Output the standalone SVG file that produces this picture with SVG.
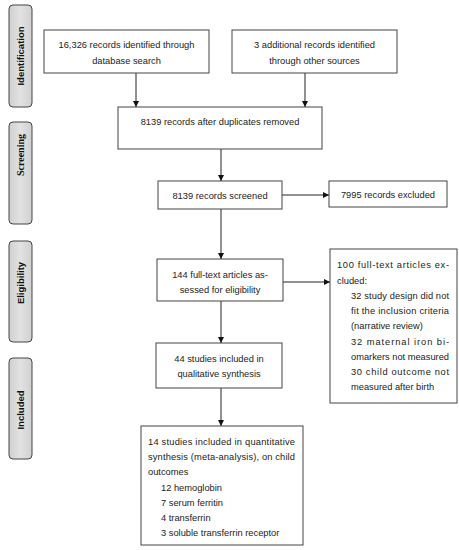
<svg xmlns="http://www.w3.org/2000/svg" width="459" height="550" viewBox="0 0 459 550">
<defs>
<linearGradient id="g" x1="0" y1="0" x2="1" y2="0">
<stop offset="0" stop-color="#d0d0d0"/>
<stop offset="0.5" stop-color="#e2e2e2"/>
<stop offset="1" stop-color="#d0d0d0"/>
</linearGradient>
<marker id="ah" viewBox="0 0 10 10" refX="10" refY="5" markerWidth="6" markerHeight="6" markerUnits="userSpaceOnUse" orient="auto">
<path d="M0,0 L10,5 L0,10 Z" fill="#111"/>
</marker>
</defs>
<style>
.box{fill:#fff;stroke:#444;stroke-width:1}
.side{fill:url(#g);stroke:#444;stroke-width:1}
.t{font-family:"Liberation Sans",Arial,sans-serif;font-size:9.3px;fill:#222}
.m{text-anchor:middle}
.sl{font-family:"Liberation Sans",Arial,sans-serif;font-size:9.5px;font-weight:bold;fill:#111;text-anchor:middle}
.ss{font-family:"Liberation Serif","Times New Roman",serif;font-size:10px;font-weight:bold;fill:#111;text-anchor:middle}
.c{stroke:#222;stroke-width:1;fill:none;marker-end:url(#ah)}
</style>
<rect width="459" height="550" fill="#fff"/>
<g id="side-identification">
<rect class="side" x="9" y="5" width="23" height="102" rx="4"/>
<text class="sl" transform="translate(24,56) rotate(-90)">Identification</text>
</g>
<g id="side-screening">
<rect class="side" x="9" y="122" width="23" height="102" rx="4"/>
<text class="ss" transform="translate(24,155) rotate(-90)">Screening</text>
</g>
<g id="side-eligibility">
<rect class="side" x="9" y="241" width="23" height="101" rx="4"/>
<text class="sl" transform="translate(24,283) rotate(-90)">Eligibility</text>
</g>
<g id="side-included">
<rect class="side" x="9" y="358" width="23" height="101" rx="4"/>
<text class="sl" transform="translate(24,410) rotate(-90)">Included</text>
</g>
<g id="connectors">
<line class="c" x1="136" y1="73" x2="136" y2="107"/>
<line class="c" x1="305" y1="73" x2="305" y2="107"/>
<line class="c" x1="221" y1="149" x2="221" y2="181"/>
<line class="c" x1="282" y1="195" x2="329" y2="195"/>
<line class="c" x1="221" y1="209" x2="221" y2="259"/>
<line class="c" x1="283" y1="282" x2="330" y2="282"/>
<line class="c" x1="221" y1="301" x2="221" y2="343"/>
<line class="c" x1="221" y1="388" x2="221" y2="426"/>
</g>
<g id="n1">
<rect class="box" x="44" y="30" width="165" height="43"/>
<text class="t m" x="126.5" y="48">16,326 records identified through</text>
<text class="t m" x="126.5" y="64">database search</text>
</g>
<g id="n2">
<rect class="box" x="232" y="30" width="165" height="43"/>
<text class="t m" x="314.5" y="48">3 additional records identified</text>
<text class="t m" x="314.5" y="64">through other sources</text>
</g>
<g id="n3">
<rect class="box" x="118" y="107" width="204" height="42"/>
<text class="t m" x="220" y="125">8139 records after duplicates removed</text>
</g>
<g id="n4">
<rect class="box" x="158" y="181" width="124" height="28"/>
<text class="t m" x="220" y="199">8139 records screened</text>
</g>
<g id="n5">
<rect class="box" x="329" y="181" width="118" height="26"/>
<text class="t m" x="388" y="198">7995 records excluded</text>
</g>
<g id="n6">
<rect class="box" x="157" y="259" width="126" height="42"/>
<text class="t m" x="220" y="278">144 full-text articles as-</text>
<text class="t m" x="220" y="293">sessed for eligibility</text>
</g>
<g id="n7">
<rect class="box" x="330" y="249" width="127" height="154"/>
<text class="t" x="337" y="268" textLength="112" lengthAdjust="spacing">100 full-text articles ex-</text>
<text class="t" x="337" y="284">cluded:</text>
<text class="t" x="351" y="299" textLength="98" lengthAdjust="spacing">32 study design did not</text>
<text class="t" x="351" y="314" textLength="98" lengthAdjust="spacing">fit the inclusion criteria</text>
<text class="t" x="351" y="329">(narrative review)</text>
<text class="t" x="351" y="345" textLength="98" lengthAdjust="spacing">32 maternal iron bi-</text>
<text class="t" x="351" y="360" textLength="98" lengthAdjust="spacing">omarkers not measured</text>
<text class="t" x="351" y="375" textLength="98" lengthAdjust="spacing">30 child outcome not</text>
<text class="t" x="351" y="390">measured after birth</text>
</g>
<g id="n8">
<rect class="box" x="156" y="343" width="126" height="45"/>
<text class="t m" x="219" y="362">44 studies included in</text>
<text class="t m" x="219" y="377">qualitative synthesis</text>
</g>
<g id="n9">
<rect class="box" x="141" y="426" width="162" height="119"/>
<text class="t" x="148" y="445" textLength="147" lengthAdjust="spacing">14 studies included in quantitative</text>
<text class="t" x="148" y="460" textLength="147" lengthAdjust="spacing">synthesis (meta-analysis), on child</text>
<text class="t" x="148" y="475">outcomes</text>
<text class="t" x="161" y="491">12 hemoglobin</text>
<text class="t" x="161" y="506">7 serum ferritin</text>
<text class="t" x="161" y="521">4 transferrin</text>
<text class="t" x="161" y="536">3 soluble transferrin receptor</text>
</g>
</svg>
